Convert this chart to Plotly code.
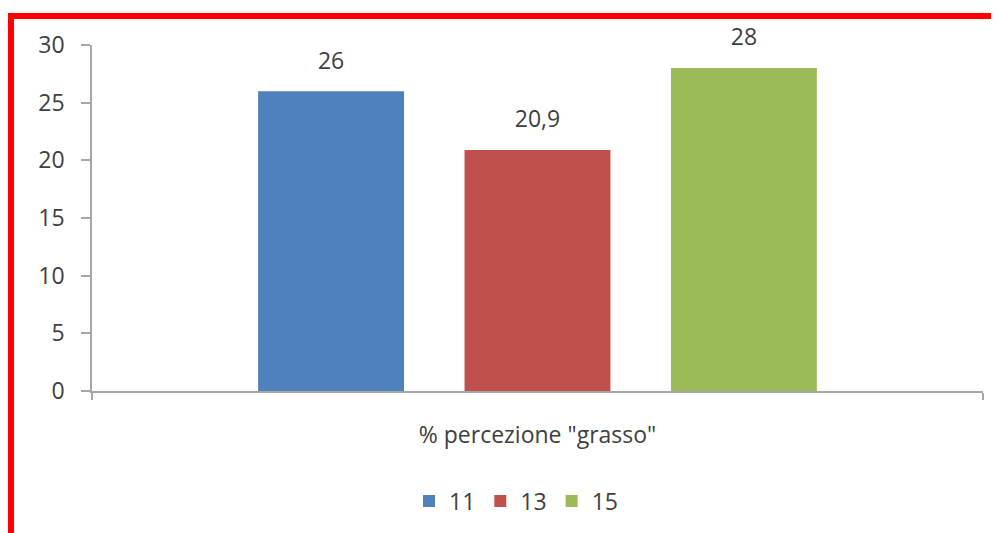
import plotly.graph_objects as go

categories = ['% percezione "grasso"']
series_names = ["11", "13", "15"]
series_values = [[26], [20.9], [28]]
colors = ["#4F81BD", "#C0504D", "#9BBB59"]
y_ticks = [0, 5, 10, 15, 20, 25, 30]

def fmt(v):
    return ("%g" % v).replace(".", ",")

FONT = "Open Sans"
FS = 23
TXT = "#404040"

# page body has an 8px margin: screen coordinates below, figure offset by 8
OFF = 8
L, T = 92, 45          # screen position of plot area top-left
W, H = 891, 346
FIG_W, FIG_H = 999 - OFF, 533 - OFF

def px2x(p): return (p - L) / W
def px2y(p): return (T + H - p) / H

fig = go.Figure()
for name, vals, col in zip(series_names, series_values, colors):
    fig.add_trace(go.Bar(
        x=categories, y=vals, name=name,
        marker=dict(color=col, line=dict(width=0)),
        text=[f"<span style='font-size:{FS}px'>{fmt(v)}</span><br> " for v in vals],
        textposition="outside",
        textfont=dict(family=FONT, size=12, color=TXT),
        cliponaxis=False,
    ))

# red frame (top and left)
fig.add_shape(type="path", xref="paper", yref="paper",
              path=f"M {px2x(11)} {px2y(560)} L {px2x(11)} {px2y(16)} L {px2x(1020)} {px2y(16)}",
              line=dict(color="#FF0000", width=6), layer="above")

fig.update_layout(
    width=FIG_W, height=FIG_H,
    margin=dict(l=L - OFF, r=FIG_W - (L - OFF) - W, t=T - OFF, b=FIG_H - (T - OFF) - H, autoexpand=False),
    paper_bgcolor="white", plot_bgcolor="white",
    barmode="group", bargap=0.305, bargroupgap=0.293,
    showlegend=True,
    legend=dict(orientation="h", x=px2x(516), xanchor="center", y=px2y(501), yanchor="middle",
                font=dict(family=FONT, size=FS, color=TXT),
                traceorder="normal"),
    font=dict(family=FONT, size=FS, color=TXT),
)
fig.update_xaxes(
    automargin=False,
    showline=True, linecolor="#A6A6A6", linewidth=1.5,
    ticks="outside", tickson="boundaries", ticklen=7, tickcolor="#A6A6A6", tickwidth=1.5,
    ticklabelstandoff=23, showgrid=False,
    tickfont=dict(family=FONT, size=FS, color=TXT),
)
fig.update_yaxes(
    automargin=False,
    range=[0, 30], tickvals=y_ticks, showline=True, linecolor="#A6A6A6", linewidth=1.5,
    ticks="outside", ticklen=9, tickcolor="#A6A6A6", tickwidth=1.5,
    ticklabelstandoff=12, showgrid=False, zeroline=False,
    tickfont=dict(family=FONT, size=FS, color=TXT),
)

fig.write_html("out.html")
